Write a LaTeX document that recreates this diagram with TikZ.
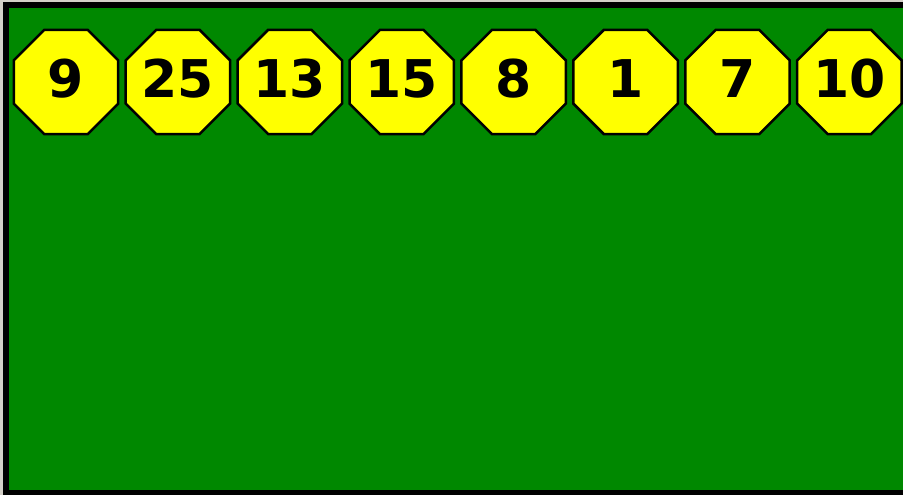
\documentclass[tikz,border=0pt]{standalone}
\usepackage{fontspec}
\newfontfamily\numfont{DejaVu Sans}
\usetikzlibrary{positioning,shapes.geometric}
\definecolor{winbg}{HTML}{D4D0C8}
\definecolor{feltgreen}{HTML}{008800}
\definecolor{tokenyellow}{HTML}{FFFF00}
\newcommand\octnum[1]{\makebox[0pt]{#1}}

\begin{document}
\begin{tikzpicture}[
  x=1pt,y=1pt,
  node distance=5pt,
  oct/.style={draw,regular polygon,regular polygon sides=8,minimum size=113pt,
    inner sep=0pt,line width=2.5pt,fill=tokenyellow,
    text height=38pt,text depth=6pt,
    font=\numfont\bfseries\fontsize{52}{52}\selectfont}
]
  \useasboundingbox (0,0) rectangle (903,495);
  \fill[winbg] (0,0) rectangle (903,495);
  \clip (0,0) rectangle (903,495);
  \draw[line width=6pt,fill=feltgreen] (6,2) rectangle (912,490);

  \node[oct] (n1) at (66,413) {\octnum{9}};
  \node[oct,right=of n1] (n2) {\octnum{25}};
  \node[oct,right=of n2] (n3) {\octnum{13}};
  \node[oct,right=of n3] (n4) {\octnum{15}};
  \node[oct,right=of n4] (n5) {\octnum{8}};
  \node[oct,right=of n5] (n6) {\octnum{1}};
  \node[oct,right=of n6] (n7) {\octnum{7}};
  \node[oct,right=of n7] (n8) {\octnum{10}};
\end{tikzpicture}
\end{document}
